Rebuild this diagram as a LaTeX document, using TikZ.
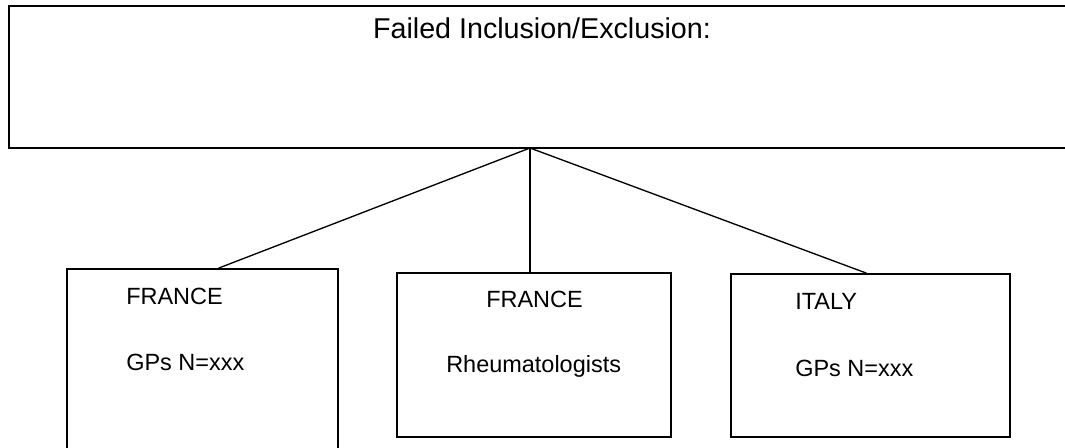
\documentclass[tikz,border=0pt]{standalone}
\usepackage{fontspec}
\setmainfont{Liberation Sans}
\usetikzlibrary{positioning}
\begin{document}
\begin{tikzpicture}[
x=0.75pt,y=-0.75pt,
box/.style={draw=black,line width=1.5pt,minimum width=#1,inner sep=0pt},
txt/.style={anchor=base west,inner sep=0pt,font=\fontsize{17.6}{21}\selectfont},
ttl/.style={anchor=base,inner sep=0pt,font=\fontsize{21.5}{26}\selectfont},
link/.style={draw=black,line width=1pt}
]
\useasboundingbox (0,0) rectangle (1065,447);
% header box, runs off the right edge
\node[box=807pt,minimum height=106.5pt] (fail) at (547,77) {};
\node[ttl] (failtxt) at (542,38) {Failed Inclusion/Exclusion:};
\coordinate (fan) at (530,148);

% country boxes
\node[box=203pt,minimum height=143pt] (frgp) at (202.5,364.5) {};
\node[box=205.5pt,minimum height=123pt] (frrh) at (534,355) {};
\node[box=209pt,minimum height=122pt] (itgp) at (870.5,355.5) {};

\node[txt] (frgp1) at (126,304) {FRANCE};
\node[txt] (frgp2) at (126,370) {GPs N=xxx};
\node[txt] (frrh1) at (486,307) {FRANCE};
\node[txt] (frrh2) at (446,372) {Rheumatologists};
\node[txt] (itgp1) at (795,309) {ITALY};
\node[txt] (itgp2) at (795,376) {GPs N=xxx};

\draw[link] (fan) -- ([xshift=12pt]frgp.north);
\draw[link] (fan) -- ([xshift=-3pt]frrh.north);
\draw[link] (fan) -- ([xshift=-3pt]itgp.north);
\end{tikzpicture}
\end{document}
